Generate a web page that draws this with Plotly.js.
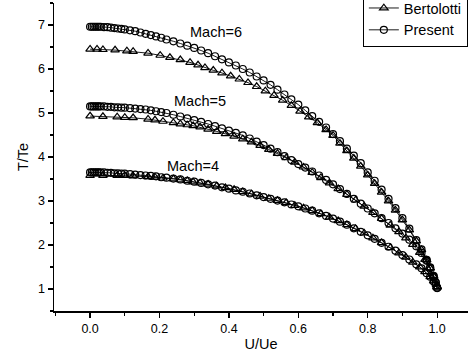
<!DOCTYPE html>
<html>
<head>
<meta charset="utf-8">
<script src="https://cdn.plot.ly/plotly-3.0.1.min.js"></script>
<style>html,body{margin:0;padding:0;background:#fff;}#chart{width:468px;height:354px;}</style>
</head>
<body>
<div id="chart"></div>
<script>
// U/Ue positions of the "Present" solution points (shared by the three Mach cases)
const presentU = [0,0.005,0.01,0.015,0.02,0.025,0.03,0.04,0.05,0.06,0.07,0.08,0.09,0.10,0.115,0.13,0.145,0.16,0.175,0.19,0.205,0.22,0.24,0.26,0.28,0.30,0.32,0.34,0.36,0.38,0.40,0.42,0.44,0.46,0.48,0.50,0.52,0.54,0.56,0.58,0.60,0.62,0.64,0.66,0.68,0.70,0.72,0.74,0.76,0.78,0.80,0.82,0.84,0.86,0.88,0.90,0.92,0.94,0.955,0.97,0.98,0.99,0.996,1.0];
const presentM6 = [6.96,6.96,6.96,6.96,6.96,6.96,6.96,6.95,6.95,6.94,6.93,6.92,6.91,6.90,6.88,6.86,6.83,6.80,6.77,6.74,6.71,6.67,6.63,6.58,6.53,6.48,6.42,6.36,6.29,6.22,6.15,6.08,6.00,5.92,5.83,5.74,5.64,5.53,5.42,5.31,5.19,5.06,4.93,4.80,4.67,4.52,4.36,4.19,4.03,3.86,3.65,3.46,3.26,3.05,2.84,2.61,2.37,2.11,1.90,1.66,1.48,1.28,1.14,1.03];
const presentM5 = [5.15,5.15,5.15,5.15,5.15,5.15,5.15,5.15,5.14,5.14,5.13,5.13,5.12,5.12,5.11,5.10,5.09,5.08,5.06,5.04,5.02,5.00,4.96,4.92,4.88,4.84,4.80,4.75,4.70,4.65,4.60,4.55,4.49,4.42,4.35,4.27,4.19,4.11,4.02,3.93,3.84,3.76,3.67,3.58,3.48,3.38,3.27,3.16,3.05,2.94,2.83,2.72,2.61,2.50,2.38,2.26,2.12,1.97,1.82,1.64,1.49,1.30,1.15,1.03];
const presentM4 = [3.65,3.65,3.65,3.65,3.65,3.65,3.65,3.65,3.64,3.64,3.63,3.63,3.62,3.62,3.61,3.60,3.59,3.58,3.57,3.56,3.54,3.53,3.51,3.49,3.46,3.44,3.41,3.38,3.35,3.31,3.28,3.24,3.21,3.17,3.13,3.09,3.05,3.01,2.97,2.92,2.88,2.83,2.78,2.72,2.66,2.60,2.53,2.46,2.38,2.30,2.22,2.14,2.05,1.96,1.87,1.77,1.67,1.56,1.47,1.36,1.28,1.17,1.09,1.02];

// Bertolotti points
const bertU6 = [0,0.02,0.037,0.072,0.106,0.124,0.167,0.202,0.23,0.26,0.288,0.311,0.331,0.355,0.38,0.405,0.43,0.455,0.48,0.505,0.53,0.555,0.58,0.605,0.63,0.655,0.68,0.70,0.72,0.74,0.76,0.78,0.80,0.82,0.84,0.86,0.88,0.90,0.92,0.94,0.955,0.97,0.98,0.99,1.0];
const bertM6 = [6.45,6.45,6.44,6.43,6.41,6.40,6.36,6.31,6.26,6.21,6.15,6.09,6.03,5.97,5.91,5.84,5.77,5.69,5.60,5.50,5.40,5.29,5.17,5.04,4.91,4.78,4.62,4.49,4.31,4.14,3.97,3.79,3.59,3.40,3.20,3.00,2.79,2.57,2.34,2.09,1.89,1.66,1.48,1.28,1.05];
const bertU5 = [0,0.037,0.078,0.1,0.124,0.167,0.187,0.21,0.24,0.26,0.28,0.297,0.317,0.34,0.365,0.39,0.415,0.44,0.465,0.49,0.515,0.54,0.565,0.59,0.615,0.64,0.665,0.69,0.715,0.74,0.765,0.79,0.815,0.84,0.865,0.89,0.91,0.93,0.95,0.965,0.98,0.99,1.0];
const bertM5 = [4.93,4.92,4.91,4.90,4.89,4.86,4.84,4.81,4.78,4.75,4.73,4.71,4.68,4.63,4.58,4.53,4.47,4.41,4.34,4.26,4.17,4.08,3.98,3.88,3.77,3.65,3.53,3.41,3.28,3.15,3.02,2.88,2.74,2.60,2.45,2.30,2.16,2.01,1.83,1.67,1.47,1.30,1.05];
const bertU4 = [0,0.037,0.078,0.1,0.124,0.167,0.187,0.21,0.24,0.26,0.28,0.297,0.317,0.34,0.365,0.39,0.415,0.44,0.465,0.49,0.515,0.54,0.565,0.59,0.615,0.64,0.665,0.69,0.715,0.74,0.765,0.79,0.815,0.84,0.865,0.89,0.91,0.93,0.95,0.965,0.98,0.99,1.0];
const bertM4 = [3.58,3.58,3.58,3.58,3.57,3.55,3.54,3.52,3.50,3.48,3.46,3.43,3.41,3.38,3.34,3.30,3.26,3.21,3.16,3.11,3.06,3.01,2.96,2.90,2.84,2.78,2.71,2.63,2.55,2.46,2.37,2.27,2.16,2.05,1.94,1.82,1.72,1.61,1.50,1.39,1.28,1.18,1.04];

const machLabels = ["Mach=6", "Mach=5", "Mach=4"];
const labelU = [0.363, 0.317, 0.297];
const labelT = [6.83, 5.27, 3.79];

const seriesNames = ["Bertolotti", "Present"];
const xTickVals = [0, 0.2, 0.4, 0.6, 0.8, 1.0];
const xTickText = ["0.0", "0.2", "0.4", "0.6", "0.8", "1.0"];
const yTickVals = [1, 2, 3, 4, 5, 6, 7];

const FONT = '"Liberation Sans", Arial, sans-serif';

function bert(x, y, show) {
  return {x: x, y: y, type: 'scatter', mode: 'lines+markers', name: seriesNames[0],
    showlegend: show, legendgroup: 'b',
    line: {color: '#000', width: 0.9},
    marker: {symbol: 'triangle-up-open', size: 7.5, color: '#000', line: {width: 1.2, color: '#000'}}};
}
function pres(x, y, show) {
  return {x: x, y: y, type: 'scatter', mode: 'lines+markers', name: seriesNames[1],
    showlegend: show, legendgroup: 'p',
    line: {color: '#000', width: 0.9},
    marker: {symbol: 'circle-open', size: 7, color: '#000', line: {width: 1.2, color: '#000'}}};
}

const data = [
  bert(bertU6, bertM6, true),
  pres(presentU, presentM6, true),
  bert(bertU5, bertM5, false),
  pres(presentU, presentM5, false),
  bert(bertU4, bertM4, false),
  pres(presentU, presentM4, false)
];

const annotations = machLabels.map((t, i) => ({
  x: labelU[i], y: labelT[i], xref: 'x', yref: 'y', text: t, showarrow: false,
  font: {family: FONT, size: 14.5, color: '#000'}
}));

const layout = {
  width: 468, height: 354,
  margin: {l: 54, r: 0, t: 3, b: 43, autoexpand: false},
  paper_bgcolor: '#fff', plot_bgcolor: '#fff',
  font: {family: FONT, color: '#000'},
  showlegend: true,
  legend: {x: 0.746, xanchor: 'left', y: 0.857, yanchor: 'bottom',
    bgcolor: '#fff', bordercolor: '#000', borderwidth: 1, entrywidth: 80,
    font: {family: FONT, size: 14.5, color: '#000'}, tracegroupgap: 0},
  xaxis: {
    range: [-0.104, 1.089], showgrid: false, zeroline: false,
    showline: true, linecolor: '#000', linewidth: 1.5,
    ticks: 'outside', ticklen: 5, tickwidth: 1.2, tickcolor: '#000',
    tickvals: xTickVals, ticktext: xTickText,
    minor: {dtick: 0.1, tick0: 0, ticks: 'outside', ticklen: 3, tickwidth: 1.2, tickcolor: '#000'},
    tickfont: {family: FONT, size: 12.5, color: '#000'},
    title: {text: 'U/Ue', font: {family: FONT, size: 14.5, color: '#000'}, standoff: 4}
  },
  yaxis: {
    range: [0.5, 7.5], showgrid: false, zeroline: false,
    showline: true, linecolor: '#000', linewidth: 1.5,
    ticks: 'outside', ticklen: 5, tickwidth: 1.2, tickcolor: '#000',
    tickvals: yTickVals,
    minor: {dtick: 0.5, tick0: 0.5, ticks: 'outside', ticklen: 3, tickwidth: 1.2, tickcolor: '#000'},
    tickfont: {family: FONT, size: 12.5, color: '#000'},
    title: {text: 'T/Te', font: {family: FONT, size: 14.5, color: '#000'}, standoff: 6}
  },
  annotations: annotations
};

Plotly.newPlot('chart', data, layout, {staticPlot: true, displayModeBar: false});
</script>
</body>
</html>
